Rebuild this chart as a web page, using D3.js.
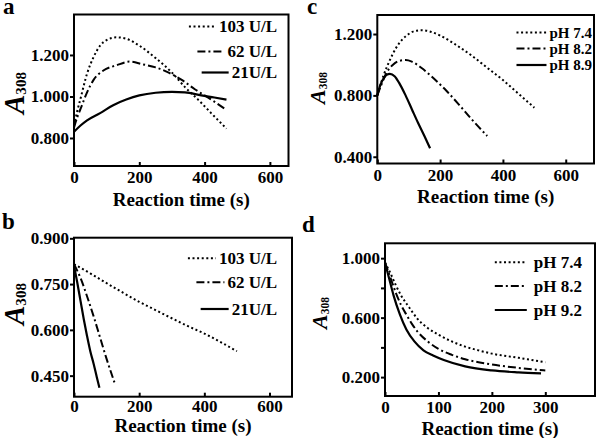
<!DOCTYPE html>
<html><head><meta charset="utf-8">
<script src="https://cdn.jsdelivr.net/npm/d3@7"></script>
<style>
body{margin:0;background:#fff}
</style>
</head><body>
<svg id="chart" width="600" height="438"></svg>
<script>
// ---------- DATA ----------
// Panel a
const aTime103 = [0,10,20,40,60,80,100,130,160,200,250,300,340,380,420,467];
const aVal103  = [0.86,0.93,0.99,1.11,1.19,1.245,1.272,1.285,1.278,1.245,1.185,1.115,1.045,0.985,0.92,0.845];
const aTime62  = [0,10,20,40,60,90,130,170,210,250,290,330,370,400,430,467];
const aVal62   = [0.85,0.90,0.94,1.02,1.08,1.125,1.15,1.168,1.155,1.14,1.115,1.08,1.035,1.005,0.975,0.935];
const aTime21  = [0,20,40,80,120,160,200,250,300,340,390,430,467];
const aVal21   = [0.83,0.86,0.885,0.92,0.958,0.985,1.005,1.018,1.022,1.02,1.005,0.995,0.985];
// Panel b
const bTime103 = [0,50,100,150,200,250,300,350,400,450,500];
const bVal103  = [0.815,0.785,0.753,0.722,0.692,0.665,0.638,0.612,0.588,0.56,0.53];
const bTime62  = [0,20,40,60,80,100,125];
const bVal62   = [0.815,0.77,0.71,0.645,0.575,0.505,0.425];
const bTime21  = [0,10,20,30,40,50,60,70,78];
const bVal21   = [0.81,0.755,0.695,0.635,0.58,0.53,0.49,0.445,0.41];
// Panel c
const cTime74  = [0,20,40,60,80,100,120,140,170,200,250,300,350,400,450,500];
const cVal74   = [0.80,0.93,1.03,1.11,1.165,1.20,1.22,1.225,1.215,1.19,1.13,1.06,0.98,0.90,0.81,0.72];
const cTime82  = [0,15,30,50,70,90,110,140,180,220,260,300,350];
const cVal82   = [0.80,0.88,0.95,1.00,1.025,1.03,1.02,0.98,0.91,0.83,0.74,0.645,0.535];
const cTime89  = [0,10,20,30,40,55,70,90,110,130,150,168];
const cVal89   = [0.80,0.87,0.91,0.935,0.94,0.925,0.88,0.80,0.71,0.62,0.535,0.455];
// Panel d
const dTime74  = [0,10,20,30,45,60,80,100,125,150,175,200,250,300];
const dVal74   = [0.97,0.90,0.82,0.75,0.67,0.595,0.53,0.485,0.44,0.405,0.38,0.358,0.33,0.30];
const dTime82  = [0,10,20,30,40,50,60,80,100,125,150,175,200,250,300];
const dVal82   = [0.97,0.87,0.77,0.685,0.62,0.56,0.51,0.44,0.39,0.35,0.32,0.30,0.285,0.262,0.245];
const dTime92  = [0,8,16,28,40,55,72,90,110,150,200,250,292];
const dVal92   = [0.97,0.86,0.75,0.62,0.52,0.44,0.38,0.345,0.315,0.272,0.245,0.232,0.225];

const unitLabels = ["103 U/L","62 U/L","21U/L"];
const pHLabelsC  = ["pH 7.4","pH 8.2","pH 8.9"];
const pHLabelsD  = ["pH 7.4","pH 8.2","pH 9.2"];
const xTicksLong  = [0,200,400,600];
const xTicksShort = [0,100,200,300];
const yTicksA = [0.8,1.0,1.2];
const yTicksB = [0.45,0.6,0.75,0.9];
const yTicksC = [0.4,0.8,1.2];
const yTicksD = [0.2,0.4,0.6,0.8,1.0];
const yLabeledD = [0.2,0.6,1.0];

// ---------- STYLES ----------
const FONT = '"Liberation Serif","Times New Roman",Times,"DejaVu Serif",serif';
const dashes = ["2,2.6", "8,3,2,3", null];

const svg = d3.select("#chart");

function zip(t, v){ return t.map((d,i)=>[d, v[i]]); }

function drawPanel(cfg){
  const g = svg.append("g");
  const x = d3.scaleLinear().domain(cfg.xDomain).range([cfg.L, cfg.R]);
  const y = d3.scaleLinear().domain(cfg.yDomain).range([cfg.B, cfg.T]);

  const line = d3.line().x(d=>x(d[0])).y(d=>y(d[1])).curve(d3.curveMonotoneX);
  cfg.series.forEach((s,i)=>{
    g.append("path").attr("d", line(s)).attr("fill","none")
      .attr("stroke","#000").attr("stroke-width", i===2?2.2:2)
      .attr("stroke-dasharray", dashes[i]);
  });

  const xa = g.append("g").attr("transform",`translate(0,${cfg.B})`)
    .call(d3.axisBottom(x).tickValues(cfg.xTicks).tickSize(-4).tickPadding(cfg.xPad).tickFormat(d3.format("d")));
  xa.select(".domain").remove();
  xa.selectAll("line").attr("stroke","#000").attr("stroke-width",2);
  xa.selectAll("text").style("font-family",FONT).style("font-weight","bold").style("font-size","17px").attr("fill","#000");

  const lab = cfg.yLabeled || cfg.yTicks;
  const ya = g.append("g").attr("transform",`translate(${cfg.L},0)`)
    .call(d3.axisLeft(y).tickValues(cfg.yTicks).tickSize(4).tickPadding(1)
      .tickFormat(d=> lab.some(v=>Math.abs(v-d)<1e-9) ? d3.format(".3f")(d) : ""));
  ya.select(".domain").remove();
  ya.selectAll("line").attr("stroke","#000").attr("stroke-width",2);
  ya.selectAll("text").style("font-family",FONT).style("font-weight","bold").style("font-size","17px").attr("fill","#000");

  g.append("rect").attr("x",cfg.L).attr("y",cfg.T).attr("width",cfg.R-cfg.L).attr("height",cfg.B-cfg.T)
    .attr("fill","none").attr("stroke","#000").attr("stroke-width",2);

  g.append("text").attr("x",(cfg.L+cfg.R)/2).attr("y",cfg.titleY).attr("text-anchor","middle")
    .style("font-family",FONT).style("font-weight","bold").style("font-size","19px").text("Reaction time (s)");

  const yt = g.append("text").attr("transform",`translate(${cfg.labX},${cfg.labY}) rotate(-90)`)
    .attr("text-anchor","middle").style("font-family",FONT).style("font-weight","bold");
  yt.append("tspan").style("font-size",cfg.labSize+"px").style("font-style","italic").text("A");
  yt.append("tspan").style("font-size",(cfg.labSize*0.52)+"px").attr("dy",cfg.labSize*0.08).text("308");

  g.append("text").attr("x",cfg.letterX).attr("y",cfg.letterY)
    .style("font-family",FONT).style("font-weight","bold").style("font-size","23px").text(cfg.letter);

  cfg.legend.forEach((name,i)=>{
    const yy = cfg.legRows[i];
    const t = g.append("text").attr("x",cfg.legX).attr("y",yy).attr("dy","0.35em")
      .attr("text-anchor","end").style("font-family",FONT).style("font-weight","bold")
      .style("font-size",cfg.legSize+"px").text(name);
    const w = t.node().getComputedTextLength();
    const x1 = cfg.legX - w - cfg.legGap;
    g.append("line").attr("x1",x1-cfg.legLen).attr("x2",x1).attr("y1",yy).attr("y2",yy)
      .attr("stroke","#000").attr("stroke-width", i===2?2.2:2).attr("stroke-dasharray",dashes[i]);
  });
}

drawPanel({
  L:74,T:14.5,R:288.5,B:166, xDomain:[0,657], yDomain:[0.665,1.395],
  xTicks:xTicksLong, yTicks:yTicksA, xPad:5, titleY:206,
  series:[zip(aTime103,aVal103),zip(aTime62,aVal62),zip(aTime21,aVal21)],
  labX:24, labY:93, labSize:29, letter:"a", letterX:3, letterY:14,
  legend:unitLabels, legRows:[26.5,51.5,72.5], legX:277, legGap:3, legLen:27, legSize:17
});
drawPanel({
  L:74,T:237.7,R:292,B:396.7, xDomain:[0,669], yDomain:[0.381,0.902],
  xTicks:xTicksLong, yTicks:yTicksB, xPad:3, titleY:432,
  series:[zip(bTime103,bVal103),zip(bTime62,bVal62),zip(bTime21,bVal21)],
  labX:24, labY:304, labSize:29, letter:"b", letterX:2, letterY:229,
  legend:unitLabels, legRows:[258.3,282.3,309], legX:277, legGap:3, legLen:28, legSize:17
});
drawPanel({
  L:377.3,T:15,R:594,B:163.5, xDomain:[0,690], yDomain:[0.356,1.324],
  xTicks:xTicksLong, yTicks:yTicksC, xPad:5, titleY:203,
  series:[zip(cTime74,cVal74),zip(cTime82,cVal82),zip(cTime89,cVal89)],
  labX:325, labY:88, labSize:22, letter:"c", letterX:307, letterY:14,
  legend:pHLabelsC, legRows:[32.5,48.5,65], legX:592, legGap:3, legLen:30, legSize:15
});
drawPanel({
  L:385,T:243.3,R:595,B:396, xDomain:[0,393], yDomain:[0.073,1.1],
  xTicks:xTicksShort, yTicks:yTicksD, yLabeled:yLabeledD, xPad:5, titleY:435,
  series:[zip(dTime74,dVal74),zip(dTime82,dVal82),zip(dTime92,dVal92)],
  labX:327, labY:313, labSize:22, letter:"d", letterX:302, letterY:232,
  legend:pHLabelsD, legRows:[262.3,286,310], legX:582, legGap:7, legLen:32, legSize:17
});
</script>
</body></html>
